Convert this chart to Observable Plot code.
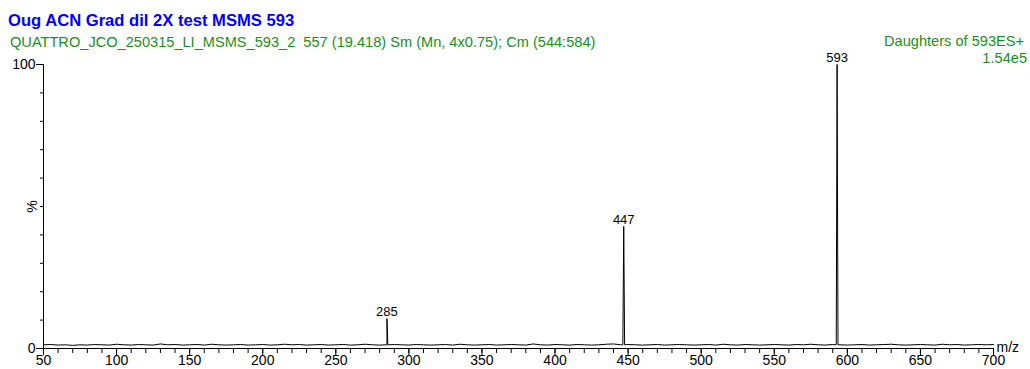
<!DOCTYPE html>
<html>
<head>
<meta charset="utf-8">
<script src="https://cdn.jsdelivr.net/npm/d3@7"></script>
<script src="https://cdn.jsdelivr.net/npm/@observablehq/plot@0.6"></script>
<style>
  html, body { margin: 0; padding: 0; background: #fff; }
  #wrap { position: relative; width: 1030px; height: 369px; overflow: hidden; font-family: Arial, "Liberation Sans", sans-serif; }
  #wrap svg { position: absolute; left: 0; top: 0; }
  .hdr { position: absolute; white-space: pre; line-height: 1; }
  #title { left: 8px; top: 13px; font-size: 16.6px; font-weight: bold; color: #0000ff; }
  #sub { left: 10px; top: 34.5px; font-size: 14.6px; color: #1a8f1a; }
  #fn { right: 6px; top: 34px; font-size: 14.6px; color: #1a8f1a; text-align: right; }
  #scale { right: 3px; top: 50.5px; font-size: 14.6px; color: #1a8f1a; text-align: right; }
</style>
</head>
<body>
<div id="wrap">
  <div class="hdr" id="title">Oug ACN Grad dil 2X test MSMS 593</div>
  <div class="hdr" id="sub">QUATTRO_JCO_250315_LI_MSMS_593_2  557 (19.418) Sm (Mn, 4x0.75); Cm (544:584)</div>
  <div class="hdr" id="fn">Daughters of 593ES+</div>
  <div class="hdr" id="scale">1.54e5</div>
</div>
<script>
// Baseline m/z sampling points (every 5 units) and the relative intensity (%) at each
const baseMz = [
  50, 55, 60, 65, 70, 75, 80, 85, 90, 95,
  100, 105, 110, 115, 120, 125, 130, 135, 140, 145,
  150, 155, 160, 165, 170, 175, 180, 185, 190, 195,
  200, 205, 210, 215, 220, 225, 230, 235, 240, 245,
  250, 255, 260, 265, 270, 275, 280, 285, 290, 295,
  300, 305, 310, 315, 320, 325, 330, 335, 340, 345,
  350, 355, 360, 365, 370, 375, 380, 385, 390, 395,
  400, 405, 410, 415, 420, 425, 430, 435, 440, 445,
  450, 455, 460, 465, 470, 475, 480, 485, 490, 495,
  500, 505, 510, 515, 520, 525, 530, 535, 540, 545,
  550, 555, 560, 565, 570, 575, 580, 585, 590, 595,
  600, 605, 610, 615, 620, 625, 630, 635, 640, 645,
  650, 655, 660, 665, 670, 675, 680, 685, 690, 695,
  700
];
const basePct = [
  1.3, 1.4, 1.2, 1.3, 1.1, 1.3, 1.2, 1.4, 1.3, 1.2,
  1.5, 1.3, 1.2, 1.4, 1.3, 1.2, 1.6, 1.3, 1.4, 1.2,
  1.3, 1.4, 1.2, 1.5, 1.3, 1.2, 1.3, 1.4, 1.2, 1.3,
  1.4, 1.2, 1.3, 1.5, 1.3, 1.4, 1.2, 1.3, 1.4, 1.2,
  1.3, 1.4, 1.2, 1.3, 1.5, 1.3, 1.2, 1.3, 1.4, 1.3,
  1.2, 1.4, 1.3, 1.2, 1.3, 1.4, 1.2, 1.5, 1.3, 1.2,
  1.3, 1.4, 1.2, 1.3, 1.4, 1.3, 1.2, 1.6, 1.3, 1.2,
  1.4, 1.3, 1.2, 1.4, 1.3, 1.2, 1.3, 1.5, 1.6, 1.3,
  1.4, 1.3, 1.2, 1.3, 1.4, 1.2, 1.3, 1.4, 1.3, 1.2,
  1.3, 1.4, 1.2, 1.5, 1.3, 1.2, 1.4, 1.3, 1.2, 1.3,
  1.4, 1.3, 1.2, 1.4, 1.3, 1.5, 1.3, 1.2, 1.4, 1.3,
  1.2, 1.3, 1.4, 1.2, 1.3, 1.4, 1.5, 1.3, 1.2, 1.3,
  1.4, 1.3, 1.2, 1.5, 1.3, 1.4, 1.2, 1.3, 1.4, 1.3,
  1.4
];

// Fragment ions: m/z and relative intensity (%)
const peakMz = [285, 447, 593];
const peakPct = [10.5, 43, 100];
const peakLabels = ["285", "447", "593"];

// Tick values
const majorX = [50, 100, 150, 200, 250, 300, 350, 400, 450, 500, 550, 600, 650, 700];
const minorX = d3.range(50, 701, 10);
const majorY = [0, 100];
const minorY = [10, 20, 30, 40, 50, 60, 70, 80, 90];

// Merge baseline and peak profiles into one continuous trace
const trace = baseMz.map((mz, i) => ({mz, pct: basePct[i]}));
peakMz.forEach((m, i) => {
  trace.push({mz: m - 0.6, pct: 1.3});
  trace.push({mz: m, pct: peakPct[i]});
  trace.push({mz: m + 0.6, pct: 1.3});
});
trace.sort((a, b) => a.mz - b.mz);
const peaks = peakMz.map((mz, i) => ({mz, pct: peakPct[i], label: peakLabels[i]}));

const font = "Arial, 'Liberation Sans', sans-serif";

const chart = Plot.plot({
  width: 1030,
  height: 369,
  marginLeft: 43,
  marginRight: 37,
  marginTop: 64,
  marginBottom: 21,
  style: {fontFamily: font, fontSize: "14px", color: "#000", background: "transparent", overflow: "visible"},
  x: {domain: [50, 700]},
  y: {domain: [0, 100]},
  marks: [
    // minor and major ticks
    Plot.axisX({ticks: minorX, tickSize: 5, tickFormat: () => "", label: null, stroke: "#000"}),
    Plot.axisX({ticks: majorX, tickSize: 7, tickPadding: 0, tickFormat: d => String(d), label: null, fontSize: 14, stroke: "#000", fill: "#000"}),
    Plot.axisY({ticks: minorY, tickSize: 3, tickFormat: () => "", label: null, stroke: "#000"}),
    Plot.axisY({ticks: majorY, tickSize: 7, tickPadding: 1, tickFormat: d => String(d), label: null, fontSize: 14, stroke: "#000", fill: "#000"}),
    // axis lines
    Plot.ruleY([0], {stroke: "#000"}),
    Plot.ruleX([50], {stroke: "#000"}),
    // spectrum trace
    Plot.line(trace, {x: "mz", y: "pct", stroke: "#000", strokeWidth: 1}),
    // peak labels
    Plot.text(peaks, {x: "mz", y: "pct", text: "label", dy: -7, fontSize: 13, fill: "#000"}),
    // axis titles
    Plot.text(["%"], {x: 50, y: 50, dx: -11, rotate: -90, fontSize: 14, fill: "#000"}),
    Plot.text(["m/z"], {x: 700, y: 0, dx: 3, dy: -1, textAnchor: "start", fontSize: 14, fill: "#000"})
  ]
});
document.getElementById("wrap").prepend(chart);
</script>
</body>
</html>
